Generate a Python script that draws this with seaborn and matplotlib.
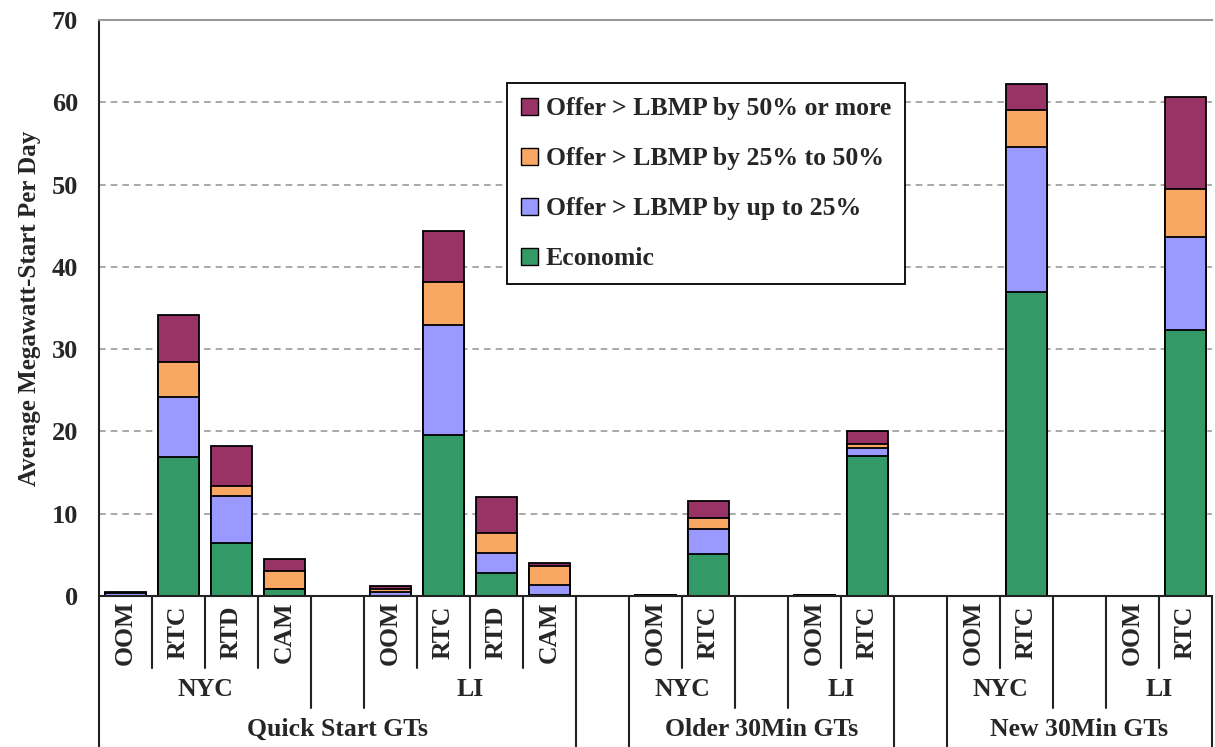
"""Stacked bars of average megawatt-starts per day by GT class and zone."""

import numpy as np
import pandas as pd
import matplotlib
matplotlib.use("Agg")
import matplotlib.pyplot as plt
import seaborn as sns

# bars, left to right: (unit group, zone, schedule)
groups = ["Quick Start GTs"] * 8 + ["Older 30Min GTs"] * 4 + ["New 30Min GTs"] * 4
zones = ["NYC"] * 4 + ["LI"] * 4 + ["NYC", "NYC", "LI", "LI"] * 2
schedules = ["OOM", "RTC", "RTD", "CAM"] * 2 + ["OOM", "RTC"] * 4

economic = [0.05, 16.9, 6.4, 0.8, 0.05, 19.6, 2.8, 0.15,
            0.1, 5.1, 0.1, 17.0, 0.0, 37.0, 0.0, 32.3]
up_to_25 = [0.35, 7.3, 5.7, 0.05, 0.5, 13.3, 2.4, 1.15,
            0.0, 3.1, 0.0, 1.0, 0.0, 17.6, 0.0, 11.3]
p25_to_50 = [0.0, 4.3, 1.3, 2.2, 0.35, 5.3, 2.5, 2.3,
             0.0, 1.3, 0.0, 0.5, 0.0, 4.5, 0.0, 5.9]
p50_more = [0.05, 5.6, 4.8, 1.4, 0.3, 6.2, 4.3, 0.45,
            0.05, 2.1, 0.05, 1.5, 0.0, 3.1, 0.0, 11.1]

series_names = ["Economic", "Offer > LBMP by up to 25%",
                "Offer > LBMP by 25% to 50%", "Offer > LBMP by 50% or more"]
colors = ["#339966", "#9999FF", "#F9A864", "#993366"]

# build the slot list, with an empty slot between zones and between groups
slots = []
for i in range(len(schedules)):
    if i > 0 and (zones[i] != zones[i - 1] or groups[i] != groups[i - 1]):
        if groups[i] != groups[i - 1]:
            slots.append(("gap_g%d" % i, None, None, None))
        else:
            slots.append(("gap_z%d" % i, groups[i], None, None))
    slots.append(("bar%d" % i, groups[i], zones[i], schedules[i]))
order = [s[0] for s in slots]

df = pd.DataFrame({
    "slot": ["bar%d" % i for i in range(len(schedules))],
    "Economic": economic,
    "Offer > LBMP by up to 25%": up_to_25,
    "Offer > LBMP by 25% to 50%": p25_to_50,
    "Offer > LBMP by 50% or more": p50_more,
})
cum = df[series_names].cumsum(axis=1)

sns.set_style("white")
plt.rcParams["font.family"] = ["Liberation Serif", "DejaVu Serif"]
plt.rcParams["font.weight"] = "bold"
FS = 18.5

fig = plt.figure(figsize=(12.15, 7.47), dpi=100)
ax = fig.add_axes([0.0815, 0.2021, 0.916, 0.7711])

# draw tallest cumulative first, lower layers on top
for name, col in reversed(list(zip(series_names, colors))):
    sns.barplot(x=df["slot"], y=cum[name], order=order, color=col,
                width=0.77, edgecolor="black", linewidth=1.3,
                saturation=1, errorbar=None, ax=ax)

ax.set_ylim(0, 70)
ax.set_xlim(-0.5, len(order) - 0.5)
ax.set_yticks(np.arange(0, 71, 10))
ax.set_yticklabels([str(v) for v in range(0, 71, 10)], fontsize=19,
                   fontweight="bold")
ax.tick_params(axis="y", length=0, pad=15)
ax.set_xticks([])
ax.set_xlabel("")
ax.set_ylabel("Average Megawatt-Start Per Day", fontsize=18,
              fontweight="bold", labelpad=8)
for v in range(10, 70, 10):
    ax.axhline(v, color="#999999", lw=1.2, ls=(0, (4, 3)), zorder=0)
ax.spines["right"].set_visible(False)
ax.spines["top"].set_color("#999999")
ax.spines["top"].set_linewidth(1.5)
ax.spines["left"].set_color("#222222")
ax.spines["bottom"].set_color("#222222")
ax.spines["left"].set_linewidth(1.5)
ax.spines["bottom"].set_linewidth(1.5)

# multi-level category axis
trans = ax.get_xaxis_transform()
y1, y2, y3 = -0.125, -0.194, -0.262
n = len(order)
for b in range(n + 1):
    left = slots[b - 1] if b > 0 else None
    right = slots[b] if b < n else None
    if left is None or right is None or left[1] != right[1] or left[1] is None:
        depth = y3
    elif left[2] != right[2] or left[2] is None:
        depth = y2
    else:
        depth = y1
    ax.plot([b - 0.5, b - 0.5], [0, depth], transform=trans, color="#222222",
            lw=1.5, clip_on=False)

for k, s in enumerate(slots):
    if s[3] is not None:
        ax.text(k, -0.063, s[3], transform=trans, rotation=90, ha="center",
                va="center", fontsize=FS, fontweight="bold")

# zone and group labels centred over their runs of slots
def runs(key):
    out = []
    start = 0
    for k in range(1, n + 1):
        if k == n or key(slots[k]) != key(slots[start]):
            out.append((start, k - 1, key(slots[start])))
            start = k
    return out

for a, b, lab in runs(lambda s: (s[1], s[2])):
    if lab[1] is not None:
        ax.text((a + b) / 2, -0.163, lab[1], transform=trans, ha="center",
                va="center", fontsize=FS, fontweight="bold")
for a, b, lab in runs(lambda s: s[1]):
    if lab is not None:
        ax.text((a + b) / 2, -0.232, lab, transform=trans, ha="center",
                va="center", fontsize=FS, fontweight="bold")

handles = [plt.Rectangle((0, 0), 1, 1, facecolor=c, edgecolor="black", lw=1)
           for c in reversed(colors)]
leg = ax.legend(handles, list(reversed(series_names)), loc="upper left",
                bbox_to_anchor=(0.3666, 0.8906), borderaxespad=0,
                fontsize=FS, frameon=True,
                fancybox=False, edgecolor="black", framealpha=1,
                handlelength=0.65, handleheight=0.65, handletextpad=0.3,
                labelspacing=1.05, borderpad=0.55)
leg.get_frame().set_linewidth(1.3)
for t in leg.get_texts():
    t.set_fontweight("bold")

fig.savefig("out.png", dpi=100)
